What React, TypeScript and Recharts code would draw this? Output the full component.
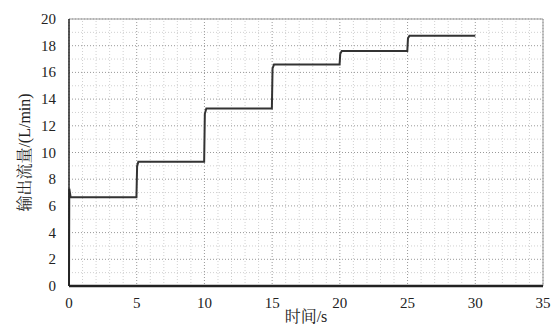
import { LineChart, Line, XAxis, YAxis, CartesianGrid, ReferenceLine } from 'recharts';

const timeS = [0, 0.02, 0.12, 4.98, 5.03, 5.12, 9.98, 10.03, 10.14, 14.98, 15.03, 15.14, 19.98, 20.03, 20.14, 24.98, 25.03, 25.14, 30];
const flowLpm = [0, 7.3, 6.65, 6.65, 9.0, 9.3, 9.3, 12.9, 13.3, 13.3, 16.3, 16.6, 16.6, 17.4, 17.6, 17.6, 18.55, 18.75, 18.75];

const xTicks = [0, 5, 10, 15, 20, 25, 30, 35];
const yTicks = [0, 2, 4, 6, 8, 10, 12, 14, 16, 18, 20];
const xMinor = [1, 2, 3, 4, 6, 7, 8, 9, 11, 12, 13, 14, 16, 17, 18, 19, 21, 22, 23, 24, 26, 27, 28, 29, 31, 32, 33, 34];
const yMinor = [1, 3, 5, 7, 9, 11, 13, 15, 17, 19];

const data = timeS.map((t, i) => ({ t, flow: flowLpm[i] }));

const font = "'Liberation Serif', 'Noto Serif CJK SC', serif";

const XTick = (props: any) => (
  <text x={props.x} y={props.y + 13} textAnchor="middle" fill="#222" fontSize={15} fontFamily={font}>
    {props.payload.value}
  </text>
);

const YTick = (props: any) => (
  <text x={props.x} y={props.y + 5} textAnchor="end" fill="#222" fontSize={15} fontFamily={font}>
    {props.payload.value}
  </text>
);

export default function App() {
  return (
    <div style={{ position: 'fixed', left: 0, top: 0, width: 552, height: 325, background: '#fff' }}>
      <LineChart width={552} height={325} data={data} margin={{ top: 19, right: 9, bottom: 0, left: 24 }}>
        <CartesianGrid stroke="#999" strokeDasharray="1 2" />
        {xMinor.map((x) => (
          <ReferenceLine key={'vx' + x} x={x} stroke="#d0d0d0" strokeDasharray="1 2" ifOverflow="hidden" />
        ))}
        {yMinor.map((y) => (
          <ReferenceLine key={'hy' + y} y={y} stroke="#d0d0d0" strokeDasharray="1 2" ifOverflow="hidden" />
        ))}
        <ReferenceLine y={20} stroke="#999" />
        <ReferenceLine x={35} stroke="#999" />
        <XAxis
          dataKey="t"
          type="number"
          domain={[0, 35]}
          ticks={xTicks}
          tickLine={false}
          axisLine={{ stroke: '#222', strokeWidth: 2.5 }}
          tick={<XTick />}
          tickMargin={3}
          height={39}
          label={{ value: '时间/s', position: 'insideBottom', offset: 3, fill: '#222', fontSize: 16, fontFamily: font }}
        />
        <YAxis
          type="number"
          domain={[0, 20]}
          ticks={yTicks}
          tickLine={false}
          axisLine={{ stroke: '#222', strokeWidth: 1.5 }}
          tick={<YTick />}
          tickMargin={7}
          width={45}
          label={{ value: '输出流量/(L/min)', angle: -90, position: 'insideLeft', offset: 0, fill: '#222', fontSize: 16, fontFamily: font, style: { textAnchor: 'middle' } }}
        />
        <Line dataKey="flow" type="linear" stroke="#333" strokeWidth={2} dot={false} isAnimationActive={false} />
      </LineChart>
    </div>
  );
}
